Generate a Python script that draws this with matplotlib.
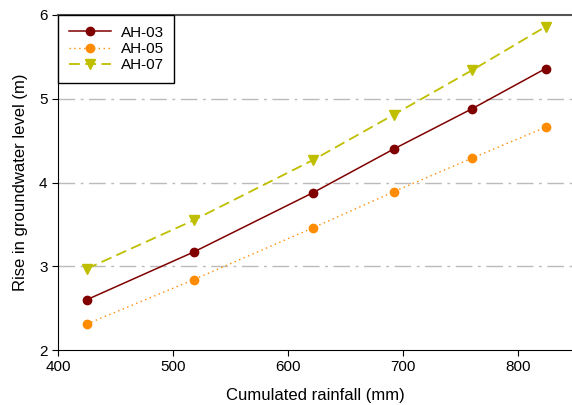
import matplotlib
matplotlib.use('Agg')
import matplotlib.pyplot as plt

plt.rcParams['font.family'] = ['Liberation Sans', 'DejaVu Sans']

rainfall = [425, 518, 622, 692, 760, 824]
ah03 = [2.60, 3.17, 3.88, 4.40, 4.88, 5.36]
ah05 = [2.31, 2.84, 3.46, 3.89, 4.29, 4.66]
ah07 = [2.97, 3.55, 4.27, 4.81, 5.34, 5.86]

fig = plt.figure(figsize=(5.72, 4.05), dpi=100)
ax = fig.add_axes([58/572, 55/405, 1 - 58/572, 335/405])

for y in [3, 4, 5]:
    ax.axhline(y, color='#bbbbbb', lw=1, ls=(0, (12, 4, 2, 4)), zorder=0)

ax.plot(rainfall, ah03, color='#800000', lw=1.1, marker='o', ms=6, label='AH-03')
ax.plot(rainfall, ah05, color='#ff8c00', lw=1.0, ls=(0, (1, 2.5)), marker='o', ms=6, label='AH-05')
ax.plot(rainfall, ah07, color='#bfbf00', lw=1.3, ls=(0, (6, 3)), marker='v', ms=7, label='AH-07')

ax.set_xlim(400, 847)
ax.set_ylim(2, 6)
ax.set_xticks([400, 500, 600, 700, 800])
ax.set_yticks([2, 3, 4, 5, 6])
ax.tick_params(direction='out', length=4, labelsize=11)
ax.spines['right'].set_visible(False)
ax.spines['top'].set_color('#555555')
ax.spines['top'].set_linewidth(1.5)
ax.set_xlabel('Cumulated rainfall (mm)', fontsize=12, labelpad=10)
ax.set_ylabel('Rise in groundwater level (m)', fontsize=12, labelpad=8)

leg = ax.legend(loc='upper left', bbox_to_anchor=(0, 1), fontsize=11, frameon=True,
                fancybox=False, edgecolor='black', borderaxespad=0, handlelength=2.8,
                handletextpad=0.6, labelspacing=0.15, borderpad=0.7, framealpha=1)
leg.get_frame().set_linewidth(1)

fig.savefig('out.png', dpi=100)
